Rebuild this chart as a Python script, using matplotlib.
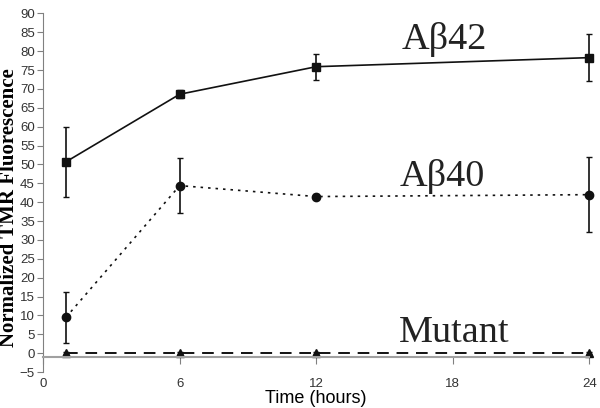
import matplotlib.pyplot as plt
import numpy as np

# time points (hours)
t = [1, 6, 12, 24]

ab42 = [50.7, 68.6, 75.9, 78.3]
ab42_err = [9.2, 1.0, 3.4, 6.2]

ab40 = [9.5, 44.4, 41.5, 42.0]
ab40_err = [6.8, 7.3, 0.6, 10.0]

mutant = [0.1, 0.1, 0.1, 0.1]
mutant_err = [0.2, 0.2, 0.2, 0.2]

fig = plt.figure(figsize=(6.0, 4.08), dpi=100)
ax = fig.add_axes([0.072, 0.088, 0.91, 0.879])

ax.errorbar(t, ab42, yerr=ab42_err, color='#111111', lw=1.2, marker='s', ms=6,
            capsize=2, elinewidth=1.2, capthick=1.0, clip_on=False)
ax.errorbar(t, ab40, yerr=ab40_err, color='#111111', lw=1.2, marker='o', ms=6,
            capsize=2, elinewidth=1.2, capthick=1.0, linestyle=(0, (1.5, 3)),
            clip_on=False)
ax.errorbar(t, mutant, yerr=mutant_err, color='#111111', lw=1.4, marker='^', ms=6,
            capsize=2, elinewidth=1.0, capthick=1.0, linestyle=(0, (6, 4)),
            clip_on=False)

ax.set_xlim(0, 24)
ax.set_ylim(-5, 90)
ax.set_xticks([0, 6, 12, 18, 24])
ax.set_yticks(np.arange(-5, 91, 5))

for s in ['top', 'right']:
    ax.spines[s].set_visible(False)
ax.spines['left'].set_color('#808080')
ax.spines['bottom'].set_color('#a0a0a0')
ax.spines['bottom'].set_linewidth(1.5)
ax.spines['bottom'].set_position(('data', -1))

ax.tick_params(axis='y', direction='out', length=4, color='#808080',
               labelsize=9.5, labelcolor='#333333', pad=2)
ax.tick_params(axis='x', direction='out', length=5, color='#808080',
               labelsize=9.5, labelcolor='#333333', pad=10)
for lab in ax.get_xticklabels() + ax.get_yticklabels():
    lab.set_family('Liberation Sans')

ax.set_xlabel('Time (hours)', fontsize=13, family='Liberation Sans', labelpad=0)
ax.set_ylabel('Normalized TMR Fluorescence', fontsize=15, fontweight='bold',
              family='Liberation Serif')
ax.yaxis.set_label_coords(-0.0436, 0.46)

ax.text(17.62, 80.5, 'A\u03b242', fontsize=27.5, family='Liberation Serif',
        ha='center', va='baseline', color='#222222')
ax.text(17.55, 44.2, 'A\u03b240', fontsize=27.5, family='Liberation Serif',
        ha='center', va='baseline', color='#222222')
ax.text(18.08, 3.1, 'Mutant', fontsize=27.5, family='Liberation Serif',
        ha='center', va='baseline', color='#222222')

fig.savefig('out.png', dpi=100)
